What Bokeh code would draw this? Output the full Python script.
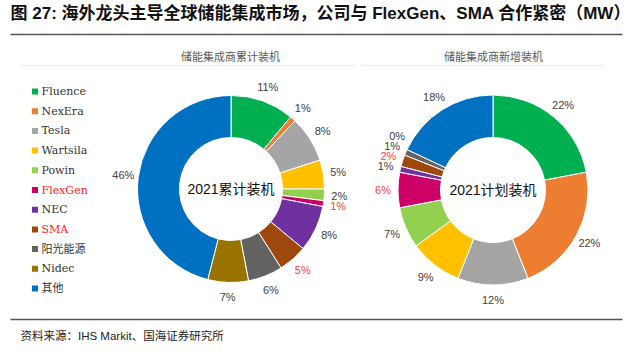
import math
from bokeh.plotting import figure
from bokeh.models import Range1d
from bokeh.core.properties import value
from bokeh.embed import file_html
from bokeh.resources import INLINE

# ---- data ----
companies = ["Fluence", "NexEra", "Tesla", "Wartsila", "Powin", "FlexGen", "NEC", "SMA", "阳光能源", "Nidec", "其他"]
colors = ["#00B050", "#ED7D31", "#A5A5A5", "#FFC000", "#92D050", "#CC0066", "#7030A0", "#9E480E", "#636363", "#997300", "#0070C0"]
highlight = ["FlexGen", "SMA"]
cumulative_pct = [11, 1, 8, 5, 2, 1, 8, 5, 6, 7, 46]
new_pct = [22, 22, 12, 9, 7, 6, 1, 2, 1, 0, 18]
title_text = "图 27: 海外龙头主导全球储能集成市场，公司与 FlexGen、SMA 合作紧密（MW）"
left_sub = "储能集成商累计装机"
right_sub = "储能集成商新增装机"
left_center = "2021累计装机"
right_center = "2021计划装机"
source_text = "资料来源：IHS Markit、国海证券研究所"

W, H = 632, 352
CJK = "Noto Sans CJK SC"
SANS = "Liberation Sans, Noto Sans CJK SC"

p = figure(width=W, height=H, output_backend="svg", toolbar_location=None,
           x_range=Range1d(0, W), y_range=Range1d(0, H), min_border=0)
p.axis.visible = False
p.grid.visible = False
p.outline_line_color = None
p.background_fill_color = "white"


def Y(y):
    return H - y


# title & rules
p.text(x=[10], y=[Y(13)], text=[title_text], text_font=value(SANS), text_font_size="17px",
       text_font_style="bold", text_color="#111111", text_align="left", text_baseline="middle")
p.segment(x0=[10], y0=[Y(34)], x1=[622], y1=[Y(34)], line_color="#555555", line_width=1.5)
p.segment(x0=[10], y0=[Y(319)], x1=[622], y1=[Y(319)], line_color="#555555", line_width=1.5)
p.text(x=[20], y=[Y(335)], text=[source_text], text_font=value(SANS), text_font_size="11.5px",
       text_color="#222222", text_align="left", text_baseline="middle")

# subtitle faint rules
p.segment(x0=[20, 360], y0=[Y(65), Y(65)], x1=[355, 605], y1=[Y(65), Y(65)],
          line_color="#f0f0f0", line_width=1.5)
p.text(x=[230, 493], y=[Y(55), Y(55)], text=[left_sub, right_sub], text_font=value(CJK),
       text_font_size="11px", text_color="#595959", text_align="center", text_baseline="middle")


def donut(cx, cy, r_out, r_in, vals, center_label):
    total = float(sum(vals))
    cum = 0.0
    starts, ends, mids, fills = [], [], [], []
    for i, v in enumerate(vals):
        a0 = cum / total
        cum += v
        a1 = cum / total
        mids.append((a0 + a1) / 2 * 2 * math.pi)  # clockwise from top
        if v > 0:
            starts.append(math.pi / 2 - a0 * 2 * math.pi)
            ends.append(math.pi / 2 - a1 * 2 * math.pi)
            fills.append(colors[i])
    p.annular_wedge(x=[cx] * len(starts), y=[Y(cy)] * len(starts), inner_radius=r_in, outer_radius=r_out,
                    start_angle=starts, end_angle=ends, direction="clock",
                    fill_color=fills, line_color="white", line_width=1)
    p.text(x=[cx], y=[Y(cy)], text=[center_label], text_font=value(SANS), text_font_size="14px",
           text_color="#111111", text_align="center", text_baseline="middle")
    # label positions (pixel coords), with simple vertical collision avoidance per side
    rl = r_out + 15
    labs = []
    for i, m in enumerate(mids):
        lx = cx + rl * math.sin(m)
        ly = cy - rl * math.cos(m)
        labs.append([i, lx, ly, 1 if math.sin(m) >= 0 else -1])
    gap = 10
    for side in (1, -1):
        grp = [l for l in labs if l[3] == side]
        grp.sort(key=lambda l: -l[2])  # bottom to top
        for k in range(1, len(grp)):
            if grp[k - 1][2] - grp[k][2] < gap:
                grp[k][2] = grp[k - 1][2] - gap
                dy = grp[k][2] - cy
                grp[k][1] = cx + side * math.sqrt(max(rl * rl - dy * dy, 0))
    xs = [l[1] for l in sorted(labs)]
    ys = [Y(l[2]) for l in sorted(labs)]
    txt = ["%d%%" % v for v in vals]
    cols = ["#FF3B3B" if companies[i] in highlight else "#404040" for i in range(len(vals))]
    p.text(x=xs, y=ys, text=txt, text_font=value(SANS), text_font_size="11px",
           text_color=cols, text_align="center", text_baseline="middle")


donut(230.5, 188.5, 93.5, 51.5, cumulative_pct, left_center)
donut(492.5, 189.5, 95, 52.5, new_pct, right_center)

# legend
lx = [34.5] * len(companies)
ly = [Y(91 + i * 19.7) for i in range(len(companies))]
p.rect(x=lx, y=ly, width=6, height=6, fill_color=colors, line_color=None)
leg_cols = ["#FF2020" if c in highlight else "#333333" for c in companies]
p.text(x=[41] * len(companies), y=ly, text=companies, text_font=value("DejaVu Serif, Noto Sans CJK SC"),
       text_font_size="11px", text_color=leg_cols, text_align="left", text_baseline="middle")

open("out.html", "w").write(file_html(p, INLINE))
